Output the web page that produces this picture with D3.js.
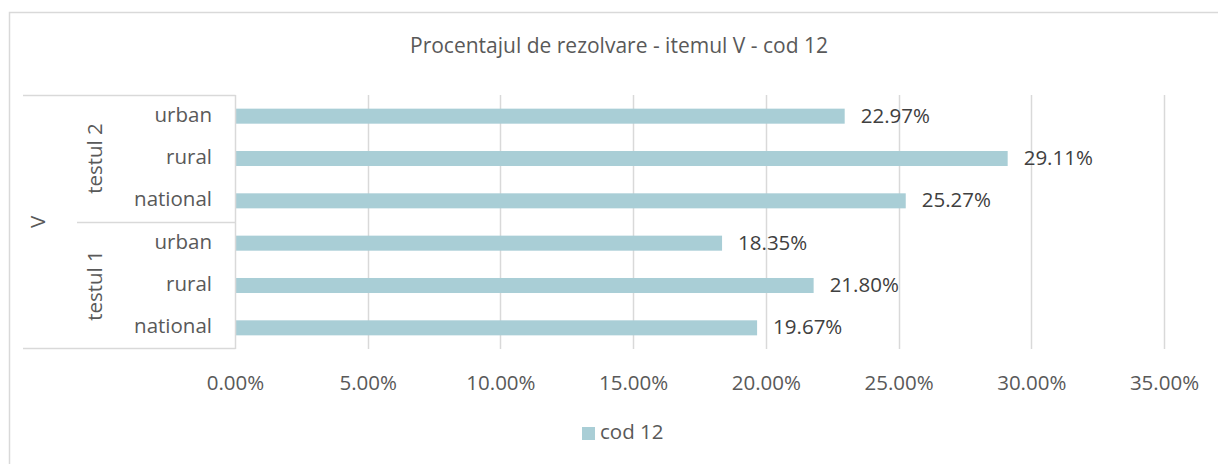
<!DOCTYPE html>
<html>
<head>
<meta charset="utf-8">
<script src="https://cdn.jsdelivr.net/npm/d3@7"></script>
<style>
  body { margin: 0; background: #fff; }
  svg text { font-family: "Open Sans", sans-serif; }
</style>
</head>
<body>
<svg id="main-svg" width="1218" height="464"></svg>
<script>
// chart data, top row first
const tests = ['testul 2', 'testul 2', 'testul 2', 'testul 1', 'testul 1', 'testul 1'];
const areas = ['urban', 'rural', 'national', 'urban', 'rural', 'national'];
const values = [22.97, 29.11, 25.27, 18.35, 21.80, 19.67];
const tickValues = [0, 5, 10, 15, 20, 25, 30, 35];
const topLevel = 'V';
const seriesName = 'cod 12';
const title = 'Procentajul de rezolvare - itemul V - cod 12';

const svg = d3.select('#main-svg');
const fs = 20.5;
const barColor = '#a9ced6';
const gridColor = '#d9d9d9';

// outer chart border (cropped on right and bottom)
svg.append('rect')
    .attr('x', 9.5).attr('y', 12.5)
    .attr('width', 1240).attr('height', 480)
    .attr('fill', 'none')
    .attr('stroke', gridColor)
    .attr('stroke-width', 1.5);

const x = d3.scaleLinear().domain([0, 35]).range([235, 1164]);
const y = d3.scaleBand()
    .domain(d3.range(values.length))
    .range([95, 349])
    .paddingInner(0.645)
    .paddingOuter(0.3225);

// title
svg.append('text')
    .attr('x', 619).attr('y', 47)
    .attr('text-anchor', 'middle')
    .attr('dominant-baseline', 'middle')
    .attr('fill', '#595959')
    .style('font-size', '21px')
    .text(title);

// gridlines
svg.append('g')
    .selectAll('line')
    .data(tickValues.slice(1))
    .enter()
    .append('line')
    .attr('x1', d => Math.round(x(d)) + 0.5)
    .attr('x2', d => Math.round(x(d)) + 0.5)
    .attr('y1', 95).attr('y2', 349)
    .attr('stroke', gridColor)
    .attr('stroke-width', 1.5);

// x tick labels
const xAxis = d3.axisBottom(x)
    .tickValues(tickValues)
    .tickSize(0)
    .tickPadding(0)
    .tickFormat(d => d.toFixed(2) + '%');
const gx = svg.append('g')
    .attr('transform', 'translate(0,383)')
    .call(xAxis);
gx.select('.domain').remove();
gx.selectAll('text')
    .attr('fill', '#595959')
    .style('font-size', fs + 'px')
    .attr('dy', '0.32em');

// bars
svg.append('g')
    .selectAll('rect')
    .data(values)
    .enter()
    .append('rect')
    .attr('x', x(0))
    .attr('y', (d, i) => y(i))
    .attr('width', d => x(d) - x(0))
    .attr('height', y.bandwidth())
    .attr('fill', barColor);

// value labels
svg.append('g')
    .selectAll('text')
    .data(values)
    .enter()
    .append('text')
    .attr('x', d => x(d) + 16)
    .attr('y', (d, i) => y(i) + y.bandwidth() / 2 + 1)
    .attr('dominant-baseline', 'middle')
    .attr('fill', '#404040')
    .style('font-size', fs + 'px')
    .text(d => d.toFixed(2) + '%');

// multi-level category axis
const axisG = svg.append('g');
const axLeft = 23, axRight = 235.5, axTop = 95, axBottom = 349;
axisG.append('line').attr('x1', axLeft).attr('y1', axTop + 0.5).attr('x2', axRight).attr('y2', axTop + 0.5)
    .attr('stroke', gridColor).attr('stroke-width', 1.5);
axisG.append('line').attr('x1', axLeft).attr('y1', axBottom - 0.5).attr('x2', axRight).attr('y2', axBottom - 0.5)
    .attr('stroke', gridColor).attr('stroke-width', 1.5);
axisG.append('line').attr('x1', axRight).attr('y1', axTop).attr('x2', axRight).attr('y2', axBottom)
    .attr('stroke', gridColor).attr('stroke-width', 1.5);
const midY = Math.round(y(3) - (y.step() - y.bandwidth()) / 2) + 0.5;
axisG.append('line').attr('x1', 77).attr('y1', midY).attr('x2', axRight).attr('y2', midY)
    .attr('stroke', gridColor).attr('stroke-width', 1.5);

// inner level labels
axisG.selectAll('.area')
    .data(areas)
    .enter()
    .append('text')
    .attr('class', 'area')
    .attr('x', 212)
    .attr('y', (d, i) => y(i) + y.bandwidth() / 2)
    .attr('text-anchor', 'end')
    .attr('dominant-baseline', 'middle')
    .attr('fill', '#595959')
    .style('font-size', fs + 'px')
    .text(d => d);

// middle level labels (rotated)
const testNames = Array.from(new Set(tests));
axisG.selectAll('.test')
    .data(testNames)
    .enter()
    .append('text')
    .attr('class', 'test')
    .attr('transform', d => {
        const idx = d3.range(tests.length).filter(i => tests[i] === d);
        const cy = (y(idx[0]) + y(idx[idx.length - 1]) + y.bandwidth()) / 2;
        return `translate(97,${cy}) rotate(-90)`;
    })
    .attr('text-anchor', 'middle')
    .attr('dominant-baseline', 'middle')
    .attr('fill', '#595959')
    .style('font-size', fs + 'px')
    .text(d => d);

// top level label
axisG.append('text')
    .attr('transform', `translate(40,${(axTop + axBottom) / 2}) rotate(-90)`)
    .attr('text-anchor', 'middle')
    .attr('dominant-baseline', 'middle')
    .attr('fill', '#595959')
    .style('font-size', fs + 'px')
    .text(topLevel);

// legend
const legend = svg.append('g');
legend.append('rect')
    .attr('x', 582).attr('y', 427)
    .attr('width', 13).attr('height', 13)
    .attr('fill', barColor);
legend.append('text')
    .attr('x', 600).attr('y', 434)
    .attr('dominant-baseline', 'middle')
    .attr('fill', '#595959')
    .style('font-size', fs + 'px')
    .text(seriesName);
</script>
</body>
</html>
